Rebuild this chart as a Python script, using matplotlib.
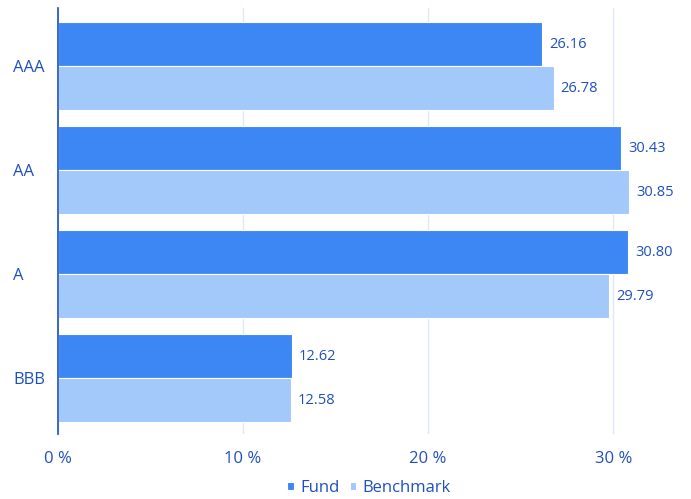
import matplotlib.pyplot as plt
import matplotlib.transforms as mtransforms
import numpy as np

plt.rcParams['font.family'] = ['Open Sans', 'DejaVu Sans']

ratings = ['AAA', 'AA', 'A', 'BBB']
fund = [26.16, 30.43, 30.80, 12.62]
benchmark = [26.78, 30.85, 29.79, 12.58]

text_col = '#1f4fbf'
fund_col = '#3d87f5'
bench_col = '#a3c9fb'

fig = plt.figure(figsize=(6.91, 4.99), dpi=100)
ax = fig.add_axes([58 / 691, 65 / 499, 620 / 691, 426 / 499])

y = np.arange(len(ratings))
h = 0.423
ax.barh(y - h / 2, fund, height=h, color=fund_col, edgecolor='white', linewidth=0.8, label='Fund', zorder=3)
ax.barh(y + h / 2, benchmark, height=h, color=bench_col, edgecolor='white', linewidth=0.8, label='Benchmark', zorder=3)

for yi, v in zip(y, fund):
    ax.text(v + 0.38, yi - h / 2, f'{v:.2f}', va='center', ha='left', color=text_col, fontsize=10.5)
for yi, v in zip(y, benchmark):
    ax.text(v + 0.38, yi + h / 2, f'{v:.2f}', va='center', ha='left', color=text_col, fontsize=10.5)

ax.set_xlim(0, 33.5)
ax.set_ylim(3.538, -0.558)
ax.set_xticks([0, 10, 20, 30])
ax.set_xticklabels(['0 %', '10 %', '20 %', '30 %'])
ax.set_yticks([])
ax.tick_params(axis='x', length=0, pad=12, labelcolor=text_col, labelsize=12)

# category labels, left aligned near figure edge
trans = mtransforms.blended_transform_factory(fig.transFigure, ax.transData)
for yi, r in zip(y, ratings):
    ax.text(13 / 691, yi + 0.02, r, transform=trans, ha='left', va='center', color=text_col, fontsize=12)

ax.grid(axis='x', color='#dde8f8', linewidth=1, zorder=0)
for s in ['top', 'right', 'bottom']:
    ax.spines[s].set_visible(False)
ax.spines['left'].set_color('#1a4fb8')
ax.spines['left'].set_linewidth(1.2)
ax.spines['left'].set_zorder(4)

leg = fig.legend(loc='center', bbox_to_anchor=(369 / 691, 11 / 499), ncol=2, frameon=False,
                 handlelength=0.4, handleheight=0.4, handletextpad=0.4, columnspacing=0.6,
                 fontsize=12, labelcolor=text_col)

fig.savefig('out.png', dpi=100)
